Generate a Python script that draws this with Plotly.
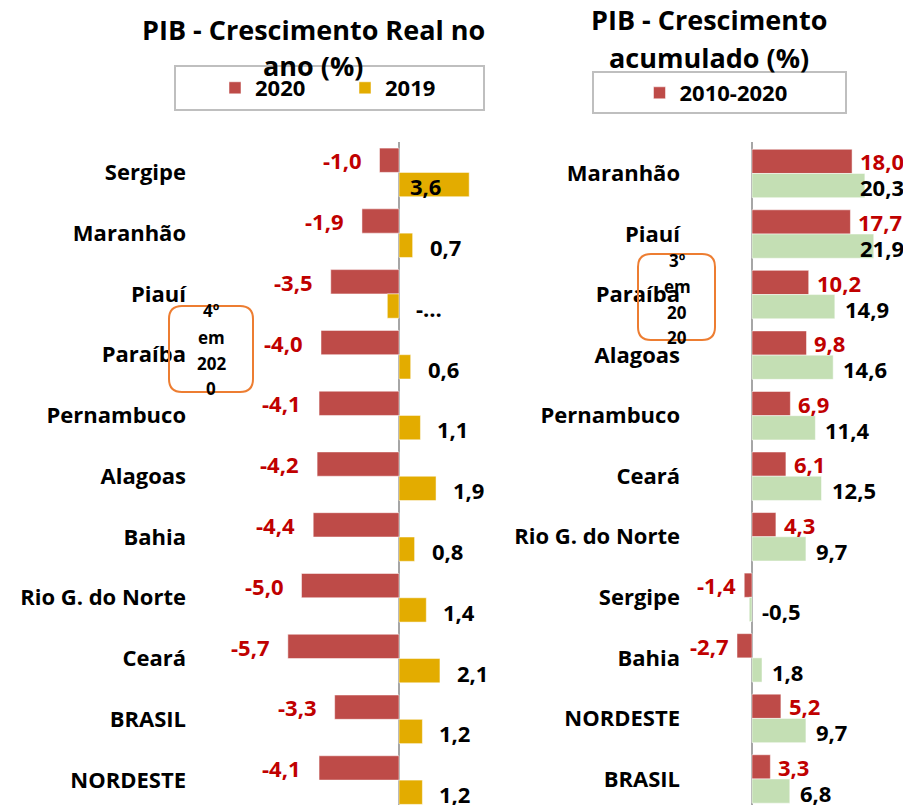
import plotly.graph_objects as go
from plotly.subplots import make_subplots

# ---------------- data ----------------
left_states = ["Sergipe", "Maranhão", "Piauí", "Paraíba", "Pernambuco", "Alagoas",
               "Bahia", "Rio G. do Norte", "Ceará", "BRASIL", "NORDESTE"]
growth_2020 = [-1.0, -1.9, -3.5, -4.0, -4.1, -4.2, -4.4, -5.0, -5.7, -3.3, -4.1]
growth_2019 = [3.6, 0.7, -0.6, 0.6, 1.1, 1.9, 0.8, 1.4, 2.1, 1.2, 1.2]
labels_2019 = ["3,6", "0,7", "-…", "0,6", "1,1", "1,9", "0,8", "1,4", "2,1", "1,2", "1,2"]

right_states = ["Maranhão", "Piauí", "Paraíba", "Alagoas", "Pernambuco", "Ceará",
                "Rio G. do Norte", "Sergipe", "Bahia", "NORDESTE", "BRASIL"]
acc_2010_2020 = [18.0, 17.7, 10.2, 9.8, 6.9, 6.1, 4.3, -1.4, -2.7, 5.2, 3.3]
acc_other = [20.3, 21.9, 14.9, 14.6, 11.4, 12.5, 9.7, -0.5, 1.8, 9.7, 6.8]

rank_left = ["4º", "em", "202", "0"]
rank_right = ["3º", "em", "20", "20"]

# ---------------- styles ----------------
OFF = 8                      # page body margin of the html page
W, H = 911 - OFF, 805 - OFF
TOP, BOT = 142 - OFF, 0
PH = H - TOP - BOT
RED = "#BE4B48"
GOLD = "#E3AC00"
GREEN = "#C4DFB4"
REDTXT = "#C00000"
FONT = "Open Sans"

L0, L1 = 190, 500
R0, R1 = 684, 911
LZ, LS = 399, 19.5
RZ, RS = 752, 5.56


def fmt(v):
    return f"{v:.1f}".replace(".", ",")


def px_x(x):
    return (x - OFF) / W


def px_y(y):
    return (H - BOT - (y - OFF)) / PH


fig = make_subplots(rows=1, cols=2, horizontal_spacing=0.0)

fig.add_trace(go.Bar(y=left_states, x=growth_2020, orientation="h", name="2020",
                     marker=dict(color=RED, line=dict(color="white", width=0.5)),
                     legend="legend"), row=1, col=1)
fig.add_trace(go.Bar(y=left_states, x=growth_2019, orientation="h", name="2019",
                     marker=dict(color=GOLD, line=dict(color="white", width=0.5)),
                     legend="legend"), row=1, col=1)
fig.add_trace(go.Bar(y=right_states, x=acc_2010_2020, orientation="h", name="2010-2020",
                     marker=dict(color=RED, line=dict(color="white", width=0.5)),
                     legend="legend2"), row=1, col=2)
fig.add_trace(go.Bar(y=right_states, x=acc_other, orientation="h", name="acumulado",
                     marker=dict(color=GREEN, line=dict(color="white", width=0.5)),
                     showlegend=False), row=1, col=2)

annots = []
BAR_OFF = 12
LBL = 22
lab_font_red = dict(family=FONT, size=LBL, color=REDTXT, weight="bold")
lab_font_blk = dict(family=FONT, size=LBL, color="black", weight="bold")


def text_w(t):
    return sum(0.58 if c.isdigit() else 0.3 for c in t) * LBL


def add_labels(states, vals, texts, xref, yref, font, yshift, gap, zero, scale, right_lim,
               mode):
    for s, v, t in zip(states, vals, texts):
        neg = v < 0
        a = dict(x=v, y=s, xref=xref, yref=yref, text=t, showarrow=False, font=font,
                 xanchor="right" if neg else "left",
                 xshift=-gap if neg else gap, yshift=yshift)
        end = zero + max(v, 0) * scale + gap + text_w(t)
        if not neg and end > right_lim:
            if mode == "inside":          # label drawn at the bar base
                a.update(x=0, xshift=9)
            else:                         # label pulled back inside the chart edge
                a.update(x=px_x(right_lim - 5), xref="paper", xanchor="right", xshift=0)
        annots.append(a)


add_labels(left_states, growth_2020, [fmt(v) for v in growth_2020], "x", "y",
           lab_font_red, BAR_OFF, 16, LZ, LS, 9999, "inside")
add_labels(left_states, [max(v, 0) for v in growth_2019], labels_2019, "x", "y",
           lab_font_blk, -BAR_OFF - 2, 15, LZ, LS, 505, "inside")
add_labels(right_states, acc_2010_2020, [fmt(v) for v in acc_2010_2020], "x2", "y2",
           lab_font_red, BAR_OFF, 6, RZ, RS, 911, "edge")
add_labels(right_states, [max(v, 0) for v in acc_other], [fmt(v) for v in acc_other], "x2", "y2",
           lab_font_blk, -BAR_OFF - 2, 8, RZ, RS, 911, "edge")

TFONT = dict(family=FONT, size=27, color="black", weight="bold")
# titles
annots.append(dict(x=px_x(313), y=px_y(30), xref="paper", yref="paper",
                   text="PIB - Crescimento Real no", showarrow=False, font=TFONT,
                   xanchor="center", yanchor="middle"))
annots.append(dict(x=px_x(313), y=px_y(66), xref="paper", yref="paper",
                   text="ano (%)", showarrow=False, font=TFONT,
                   xanchor="center", yanchor="middle"))
annots.append(dict(x=px_x(709), y=px_y(20), xref="paper", yref="paper",
                   text="PIB - Crescimento", showarrow=False, font=TFONT,
                   xanchor="center", yanchor="middle"))
annots.append(dict(x=px_x(709), y=px_y(57), xref="paper", yref="paper",
                   text="acumulado (%)", showarrow=False, font=TFONT,
                   xanchor="center", yanchor="middle"))

# rank boxes text
RFONT = dict(family=FONT, size=17, color="black", weight="bold")
for t, yy in zip(rank_left, [310, 337, 363, 388]):
    annots.append(dict(x=px_x(211), y=px_y(yy), xref="paper", yref="paper", text=t,
                       showarrow=False, font=RFONT, xanchor="center", yanchor="middle"))
for t, yy in zip(rank_right, [260, 286, 312, 337]):
    annots.append(dict(x=px_x(677), y=px_y(yy), xref="paper", yref="paper", text=t,
                       showarrow=False, font=RFONT, xanchor="center", yanchor="middle"))


def rrect(x0, y0, x1, y1, r):
    X = px_x
    Y = px_y
    return (f"M {X(x0+r)},{Y(y0)} L {X(x1-r)},{Y(y0)} Q {X(x1)},{Y(y0)} {X(x1)},{Y(y0+r)} "
            f"L {X(x1)},{Y(y1-r)} Q {X(x1)},{Y(y1)} {X(x1-r)},{Y(y1)} "
            f"L {X(x0+r)},{Y(y1)} Q {X(x0)},{Y(y1)} {X(x0)},{Y(y1-r)} "
            f"L {X(x0)},{Y(y0+r)} Q {X(x0)},{Y(y0)} {X(x0+r)},{Y(y0)} Z")


shapes = [
    dict(type="path", xref="paper", yref="paper", path=rrect(169, 306, 253, 392, 13),
         line=dict(color="#ED7D31", width=2)),
    dict(type="path", xref="paper", yref="paper", path=rrect(638, 254, 715, 340, 13),
         line=dict(color="#ED7D31", width=2)),
    dict(type="rect", xref="paper", yref="paper", x0=px_x(175), x1=px_x(484),
         y0=px_y(66), y1=px_y(110), line=dict(color="#BFBFBF", width=2)),
    dict(type="rect", xref="paper", yref="paper", x0=px_x(593), x1=px_x(846),
         y0=px_y(72), y1=px_y(113), line=dict(color="#BFBFBF", width=2)),
]

TICKF = dict(family=FONT, size=22, color="black", weight="bold")
LEGF = dict(family=FONT, size=22, color="black", weight="bold")

fig.update_layout(
    width=W, height=H,
    margin=dict(l=0, r=0, t=TOP, b=BOT),
    paper_bgcolor="white", plot_bgcolor="white",
    barmode="group", bargap=0.2, bargroupgap=0.0,
    font=dict(family=FONT, color="black"),
    annotations=annots, shapes=shapes,
    legend=dict(orientation="h", x=px_x(345), y=px_y(88), xanchor="center", yanchor="middle",
                bgcolor="rgba(0,0,0,0)", borderwidth=0, entrywidth=85, font=LEGF),
    legend2=dict(orientation="h", x=px_x(716), y=px_y(93), xanchor="center", yanchor="middle",
                 bgcolor="rgba(0,0,0,0)", borderwidth=0, font=LEGF),
    xaxis=dict(domain=[px_x(L0), px_x(L1)], range=[(L0 - LZ) / LS, (L1 - LZ) / LS],
               showticklabels=False, showgrid=False, zeroline=True,
               zerolinecolor="#A6A6A6", zerolinewidth=1.5, fixedrange=True),
    xaxis2=dict(domain=[px_x(R0), px_x(R1)], range=[(R0 - RZ) / RS, (R1 - RZ) / RS],
                showticklabels=False, showgrid=False, zeroline=True,
                zerolinecolor="#A6A6A6", zerolinewidth=1.5, fixedrange=True),
    yaxis=dict(categoryorder="array", categoryarray=left_states, range=[10.41, -0.5],
               showgrid=False, ticks="", ticklabelstandoff=3, tickfont=TICKF),
    yaxis2=dict(categoryorder="array", categoryarray=right_states, range=[10.43, -0.52],
                showgrid=False, ticks="", ticklabelstandoff=3, tickfont=TICKF),
)

fig.write_html("out.html")
